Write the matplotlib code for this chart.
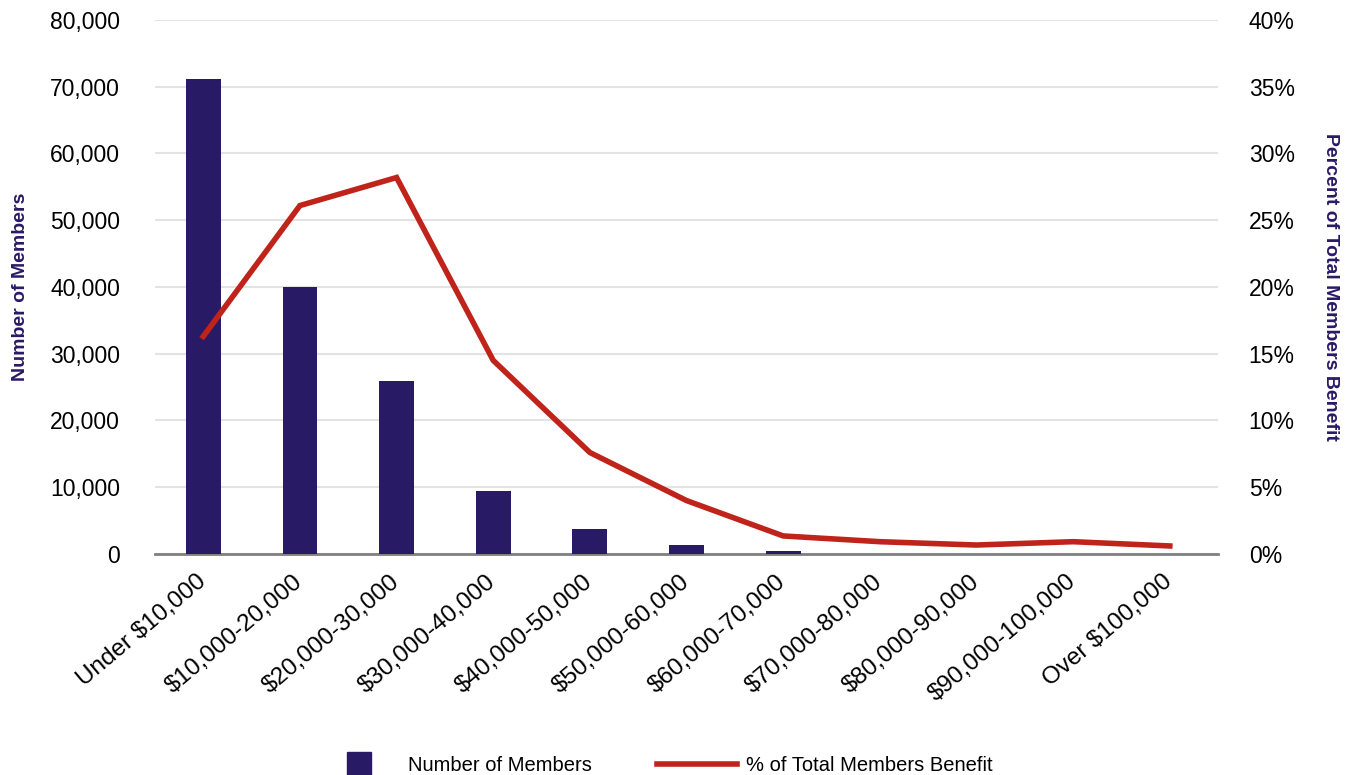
import matplotlib
matplotlib.use("Agg")
import matplotlib.pyplot as plt
from matplotlib.ticker import FuncFormatter, MultipleLocator
from matplotlib.lines import Line2D

categories = ["Under $10,000", "$10,000-20,000", "$20,000-30,000", "$30,000-40,000",
              "$40,000-50,000", "$50,000-60,000", "$60,000-70,000", "$70,000-80,000",
              "$80,000-90,000", "$90,000-100,000", "Over $100,000"]
members = [71200, 40000, 25900, 9450, 3750, 1350, 450, 0, 0, 0, 0]
pct_benefit = [16.3, 26.1, 28.2, 14.5, 7.6, 4.0, 1.35, 0.92, 0.67, 0.92, 0.6]

navy = "#291a66"
red = "#c0231a"
plt.rcParams['font.family'] = ['Liberation Sans', 'DejaVu Sans']

fig = plt.figure(figsize=(13.52, 7.75), dpi=100)
ax = fig.add_axes([0.1146, 0.2852, 0.7864, 0.6890])
ax2 = ax.twinx()

x = list(range(len(categories)))
ax.bar(x, members, width=0.36, color=navy, zorder=3)
ax2.plot(x, pct_benefit, color=red, lw=4, solid_joinstyle='miter', zorder=4)

ax.set_xlim(-0.5, len(categories) - 0.5)
ax.set_ylim(0, 80000)
ax2.set_ylim(0, 40)
ax.yaxis.set_major_locator(MultipleLocator(10000))
ax2.yaxis.set_major_locator(MultipleLocator(5))
ax.yaxis.set_major_formatter(FuncFormatter(lambda v, p: f"{int(v):,}"))
ax2.yaxis.set_major_formatter(FuncFormatter(lambda v, p: f"{int(v)}%"))

ax.grid(axis='y', color='#e3e3e3', lw=1.5, zorder=0)
ax.set_axisbelow(True)
for a in (ax, ax2):
    for s in a.spines.values():
        s.set_visible(False)
ax.spines['bottom'].set_visible(True)
ax.spines['bottom'].set_color('#808080')
ax.spines['bottom'].set_linewidth(2)

ax.set_xticks(x)
ax.set_xticklabels(categories, rotation=40, ha='right', va='center',
                   rotation_mode='anchor', fontsize=17.5)
ax.tick_params(axis='x', length=0, pad=18)
ax.tick_params(axis='y', length=0, labelsize=16.5, pad=25)
ax2.tick_params(axis='y', length=0, labelsize=16.5, pad=22)

ax.set_ylabel("Number of Members", color=navy, fontsize=14, fontweight='bold')
ax2.set_ylabel("Percent of Total Members Benefit", color=navy, fontsize=14,
               fontweight='bold', rotation=270, va='center')
ax.yaxis.set_label_coords(-0.118, 0.5)
ax2.yaxis.set_label_coords(1.106, 0.5)

handles = [Line2D([], [], marker='s', markersize=17, linestyle='none', color=navy),
           Line2D([], [], color=red, lw=4)]
fig.legend(handles, ["Number of Members", "% of Total Members Benefit"],
           loc='center', bbox_to_anchor=(0.485, 0.012), ncol=2, frameon=False,
           prop={'size': 14.5}, columnspacing=3.2, handlelength=4,
           handletextpad=0.45)

fig.savefig("out.png", dpi=100)
